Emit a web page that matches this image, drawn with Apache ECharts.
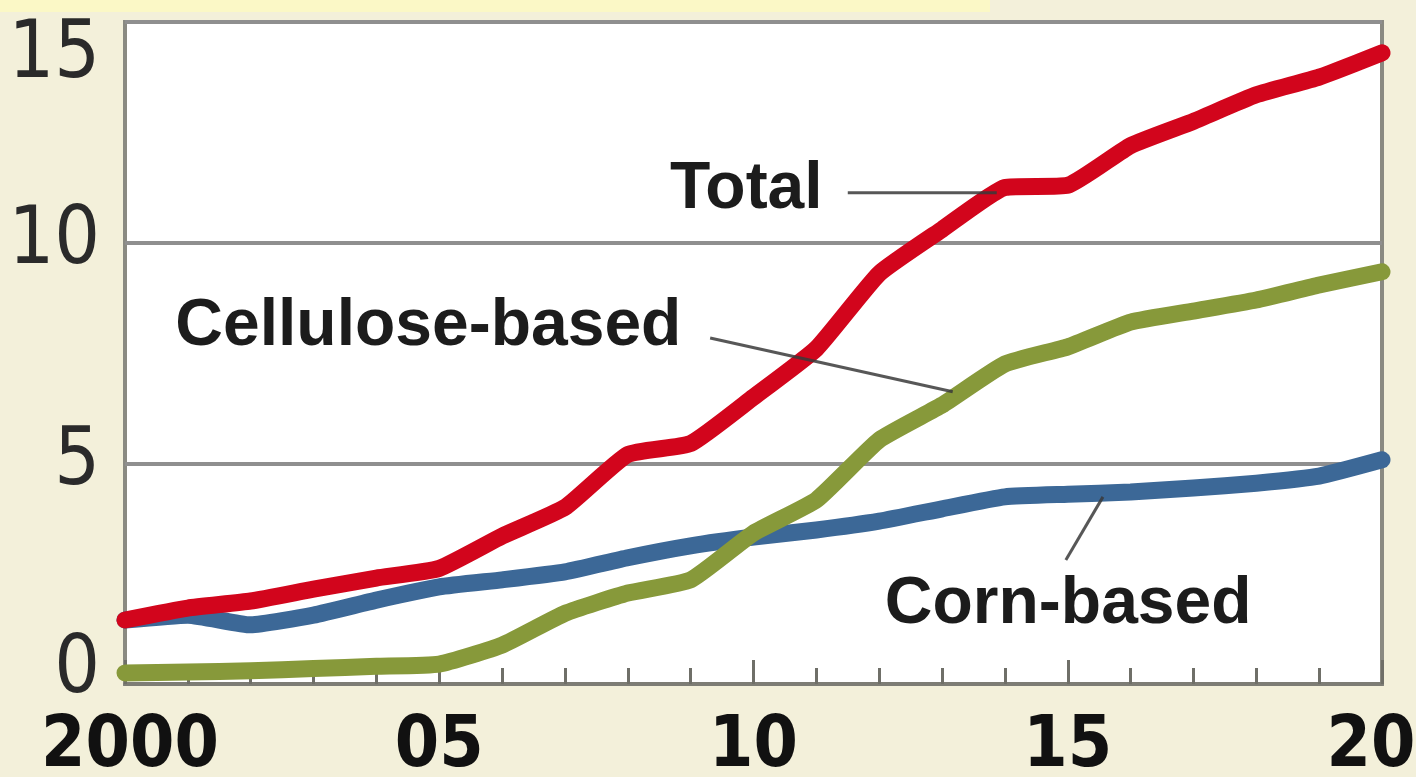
<!DOCTYPE html>
<html>
<head>
<meta charset="utf-8">
<script src="https://cdn.jsdelivr.net/npm/echarts@6/dist/echarts.min.js"></script>
<style>
  html, body { margin: 0; padding: 0; background: #f3f0da; }
  #chart { width: 1416px; height: 777px; }
</style>
</head>
<body>
<div id="chart"></div>
<script>
// Ethanol production outlook, 2000-2020
const years = [2000, 2001, 2002, 2003, 2004, 2005, 2006, 2007, 2008, 2009, 2010,
               2011, 2012, 2013, 2014, 2015, 2016, 2017, 2018, 2019, 2020];
const total = [1.45, 1.72, 1.88, 2.15, 2.40, 2.62, 3.35, 4.00, 5.20, 5.45, 6.50,
               7.60, 9.30, 10.30, 11.25, 11.30, 12.20, 12.75, 13.35, 13.75, 14.30];
const cornBased = [1.45, 1.56, 1.34, 1.56, 1.90, 2.20, 2.36, 2.54, 2.86, 3.13, 3.33,
                   3.49, 3.69, 3.97, 4.24, 4.30, 4.35, 4.44, 4.55, 4.71, 5.08];
const celluloseBased = [0.25, 0.27, 0.30, 0.35, 0.40, 0.45, 0.88, 1.60, 2.06, 2.36, 3.42,
                        4.17, 5.53, 6.32, 7.25, 7.64, 8.20, 8.45, 8.70, 9.04, 9.34];
const xTickLabels = ['2000', '05', '10', '15', '20'];
const yTickLabels = ['0', '5', '10', '15'];

// Series labels with their leader lines, in data coordinates
const notes = [
  { text: 'Total',           at: [2008.67, 11.19], from: [2011.5, 11.13], to: [2013.87, 11.13] },
  { text: 'Cellulose-based', at: [2000.80, 8.09],  from: [2009.31, 7.84],  to: [2013.17, 6.62] },
  { text: 'Corn-based',      at: [2012.09, 1.79],  from: [2014.97, 2.81],  to: [2015.56, 4.24] }
];

const pairs = arr => years.map((y, i) => [y, arr[i]]);

const chart = echarts.init(document.getElementById('chart'), null, { renderer: 'canvas' });

const tickFont = '"DejaVu Sans Condensed", "DejaVu Sans", sans-serif';
const noteFont = '"Liberation Sans", Arial, sans-serif';

const lineSeries = (name, data, color, z) => ({
  name, type: 'line', data: pairs(data), z,
  showSymbol: false, symbol: 'none', smooth: 0.15,
  lineStyle: { color, width: 17, cap: 'round', join: 'round' },
  emphasis: { disabled: true }, silent: true, animation: false
});

chart.setOption({
  animation: false,
  backgroundColor: '#f3f0da',
  grid: {
    left: 125, right: 34, top: 22, bottom: 93,
    outerBoundsMode: 'none', containLabel: false,
    show: true, backgroundColor: '#ffffff',
    borderColor: '#8a8a82', borderWidth: 4
  },
  xAxis: {
    type: 'value', min: 2000, max: 2020, interval: 5,
    axisLine: { show: true, lineStyle: { color: '#7d7d75', width: 4 } },
    axisTick: { show: true, inside: true, length: 24, lineStyle: { color: '#6f6f68', width: 3 } },
    minorTick: { show: true, splitNumber: 5, length: 16, lineStyle: { color: '#6f6f68', width: 3 } },
    splitLine: { show: false },
    axisLabel: {
      margin: 28,
      formatter: v => {
        const s = xTickLabels[Math.round((v - 2000) / 5)];
        if (v === 2000) return '{first|' + s + '}';
        if (v === 2020) return '{last|' + s + '}';
        return s;
      },
      rich: {
        first: { padding: [0, 0, 0, 10] },
        last: { padding: [0, 22, 0, 0] }
      },
      fontFamily: tickFont, fontWeight: 'bold', fontSize: 71, color: '#111111'
    }
  },
  yAxis: {
    type: 'value', min: 0, max: 15, interval: 5,
    axisLine: { show: false },
    axisTick: { show: false },
    splitLine: { show: true, lineStyle: { color: '#8f8f8f', width: 4 } },
    axisLabel: {
      margin: 25,
      formatter: v => {
        const s = yTickLabels[Math.round(v / 5)];
        if (v === 15) return '{top|' + s + '}';
        if (v === 0) return '{bot|' + s + '}';
        return '{mid|' + s + '}';
      },
      rich: {
        top: { padding: [68, 0, 0, 0] },
        bot: { padding: [0, 0, 26, 0] },
        mid: {}
      },
      fontFamily: tickFont, fontSize: 80, color: '#2a2a2a'
    }
  },
  series: [
    lineSeries('Corn-based', cornBased, '#3c6897', 3),
    lineSeries('Cellulose-based', celluloseBased, '#87993a', 4),
    lineSeries('Total', total, '#d2051c', 5)
  ]
});

// Labels and leader lines placed through the chart's own coordinate system
function placeNotes() {
  const els = [
    { type: 'rect', shape: { x: 0, y: 0, width: 990, height: 12 }, style: { fill: '#fbf8c6' }, z: 0 }
  ];
  notes.forEach(n => {
    const p = chart.convertToPixel({ gridIndex: 0 }, n.at);
    const a = chart.convertToPixel({ gridIndex: 0 }, n.from);
    const b = chart.convertToPixel({ gridIndex: 0 }, n.to);
    els.push({
      type: 'line', z: 6,
      shape: { x1: a[0], y1: a[1], x2: b[0], y2: b[1] },
      style: { stroke: '#3a3a3a', lineWidth: 3, opacity: 0.85 }
    });
    els.push({
      type: 'text', z: 7, x: p[0], y: p[1],
      style: {
        text: n.text, fill: '#1c1c1c',
        font: 'bold 66px ' + noteFont,
        align: 'left', verticalAlign: 'middle'
      }
    });
  });
  chart.setOption({ graphic: els });
}
placeNotes();
</script>
</body>
</html>
